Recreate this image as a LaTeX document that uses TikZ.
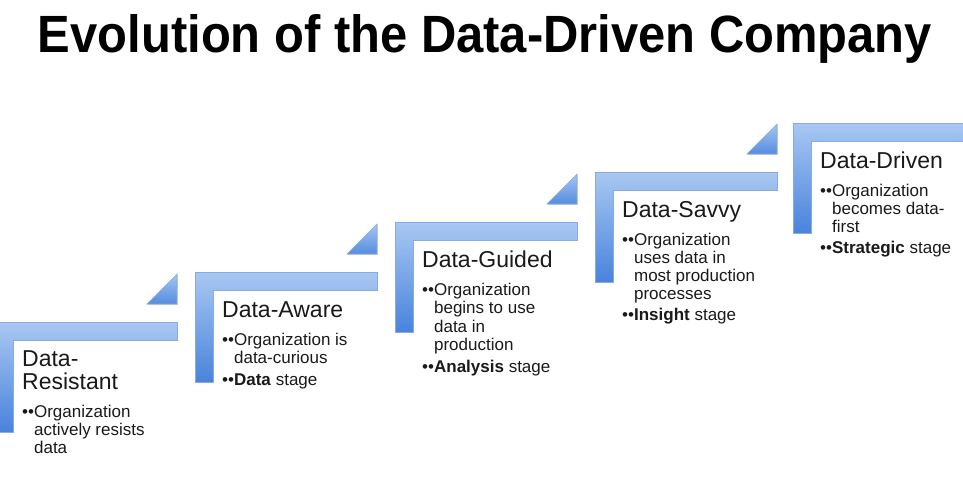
\documentclass[tikz,border=0pt]{standalone}
\usepackage{fontspec}
\setmainfont{Liberation Sans}
\usetikzlibrary{shadows}
\definecolor{barTop}{HTML}{A9C8F2}
\definecolor{barBot}{HTML}{4883DC}
\definecolor{barEdge}{HTML}{86ACE2}
\definecolor{triTop}{HTML}{A4C6F3}
\definecolor{triBot}{HTML}{558CDF}
\definecolor{ink}{HTML}{1A1A1A}
\tikzset{
  stepL/.style={top color=barTop, bottom color=barBot, draw=barEdge, line width=0.6pt,
    drop shadow={shadow xshift=0.8pt, shadow yshift=-0.8pt, opacity=0.25, fill=black!60}},
  stepTri/.style={top color=triTop, bottom color=triBot, draw=barEdge, line width=0.6pt,
    drop shadow={shadow xshift=0.8pt, shadow yshift=-0.8pt, opacity=0.25, fill=black!60}},
  hd/.style={anchor=base west, inner sep=0pt, text=ink, font=\fontsize{23}{27}\selectfont},
  bl/.style={anchor=base west, inner sep=0pt, text=ink, font=\fontsize{17}{20}\selectfont},
}
\newcommand\stepbar[2]{%
  \path[stepL] (#1,#2) -- (#1+182,#2) -- (#1+182,#2+18) -- (#1+18,#2+18) -- (#1+18,#2+110) -- (#1,#2+110) -- cycle;
}
\newcommand\steptri[2]{%
  \path[stepTri] (#1+152,#2-18) -- (#1+182,#2-18) -- (#1+182,#2-48) -- cycle;
}
\newcommand\bu{••}
\newcommand\bi{\phantom{••}}
\begin{document}
\begin{tikzpicture}[x=1pt,y=-1pt]
\useasboundingbox[fill=white] (0,0) rectangle (963,477);
\clip (0,0) rectangle (963,477);

% title
\node[anchor=base, inner sep=0pt, text=black] (title) at (485,52)
  {\resizebox{894pt}{38pt}{\fontsize{50}{56}\selectfont\bfseries Evolution of the Data-Driven Company}};

% steps
\stepbar{-5}{322}\steptri{-5}{322}
\stepbar{195}{272}\steptri{195}{272}
\stepbar{395}{222}\steptri{395}{222}
\stepbar{595}{172}\steptri{595}{172}
\stepbar{793}{123}

% block 1
\node[hd] (r1) at (22,366) {Data-};
\node[hd] (r2) at (22,389) {Resistant};
\node[bl] (r3) at (22,417) {\bu Organization};
\node[bl] (r4) at (22,435) {\bi actively resists};
\node[bl] (r5) at (22,453) {\bi data};

% block 2
\node[hd] (a1) at (222,317) {Data-Aware};
\node[bl] (a2) at (222,345) {\bu Organization is};
\node[bl] (a3) at (222,363) {\bi data-curious};
\node[bl] (a4) at (222,385) {\bu\textbf{Data} stage};

% block 3
\node[hd] (g1) at (422,267) {Data-Guided};
\node[bl] (g2) at (422,295) {\bu Organization};
\node[bl] (g3) at (422,313) {\bi begins to use};
\node[bl] (g4) at (422,332) {\bi data in};
\node[bl] (g5) at (422,350) {\bi production};
\node[bl] (g6) at (422,372) {\bu\textbf{Analysis} stage};

% block 4
\node[hd] (s1) at (622,217) {Data-Savvy};
\node[bl] (s2) at (622,245) {\bu Organization};
\node[bl] (s3) at (622,263) {\bi uses data in};
\node[bl] (s4) at (622,281) {\bi most production};
\node[bl] (s5) at (622,299) {\bi processes};
\node[bl] (s6) at (622,320) {\bu\textbf{Insight} stage};

% block 5
\node[hd] (d1) at (820,168) {Data-Driven};
\node[bl] (d2) at (820,196) {\bu Organization};
\node[bl] (d3) at (820,214) {\bi becomes data-};
\node[bl] (d4) at (820,232) {\bi first};
\node[bl] (d5) at (820,253) {\bu\textbf{Strategic} stage};
\end{tikzpicture}
\end{document}
